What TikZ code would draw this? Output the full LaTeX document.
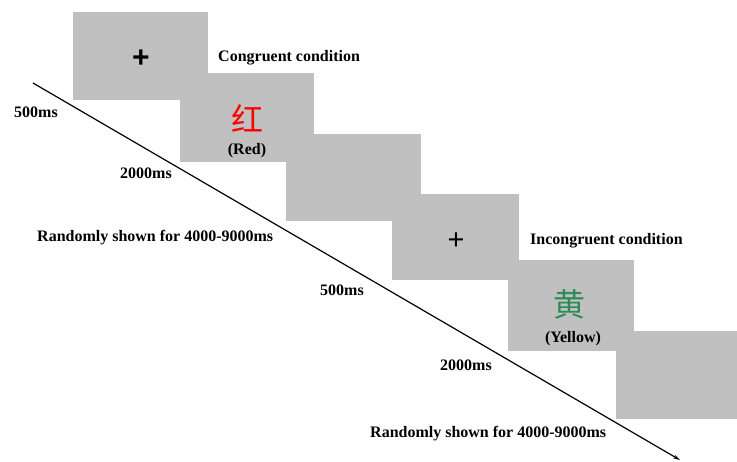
\documentclass[tikz,border=0pt]{standalone}
\usepackage{fontspec}
\setmainfont{Liberation Serif}
\newfontfamily\plusfont{Liberation Sans}
\newfontfamily\cjk{Noto Sans CJK SC}
\usetikzlibrary{arrows.meta}
\definecolor{screen}{RGB}{192,192,192}
\definecolor{wordred}{RGB}{255,0,0}
\definecolor{wordgreen}{RGB}{46,139,87}
\begin{document}
\begin{tikzpicture}[x=1pt,y=-1pt,
  scr/.style={fill=screen,draw=none},
  lbl/.style={font=\fontsize{16}{18}\selectfont\bfseries,inner sep=0pt,anchor=base west},
  word/.style={font=\fontsize{32}{34}\selectfont\cjk,inner sep=0pt},
  trans/.style={font=\fontsize{16}{18}\selectfont\bfseries,inner sep=0pt,anchor=base}]
\useasboundingbox (0,0) rectangle (737,461);
% screens
\fill[scr] (73,12) rectangle (208,100);
\fill[scr] (180,73) rectangle (314,162);
\fill[scr] (286,134) rectangle (421,221);
\fill[scr] (392,194) rectangle (519,280);
\fill[scr] (508,260) rectangle (634,351);
\fill[scr] (616,331) rectangle (737,419);
% screen contents
\node[inner sep=0pt,font=\fontsize{30}{32}\selectfont\plusfont\bfseries] (fix1) at (141,59) {+};
\node[inner sep=0pt,font=\fontsize{29}{31}\selectfont\plusfont] (fix2) at (456,241) {+};
\node[word,text=wordred] (red) at (247,118) {红};
\node[trans] (redt) at (247,154) {(Red)};
\node[word,text=wordgreen] (yellow) at (569,304) {黄};
\node[trans] (yellowt) at (573,342) {(Yellow)};
% condition labels
\node[lbl] (cong) at (218,61) {Congruent condition};
\node[lbl] (incong) at (530,244) {Incongruent condition};
% timeline
\coordinate (tstart) at (33,83);
\coordinate (tend) at (680,460);
\draw[line width=1.2pt,-{Stealth[length=7pt,width=4pt]}] (tstart) -- (tend);
% durations
\node[lbl] (d1) at (14,117) {500ms};
\node[lbl] (d2) at (120,178) {2000ms};
\node[lbl] (d3) at (37,241) {Randomly shown for 4000-9000ms};
\node[lbl] (d4) at (320,295) {500ms};
\node[lbl] (d5) at (440,370) {2000ms};
\node[lbl] (d6) at (370,437) {Randomly shown for 4000-9000ms};
\end{tikzpicture}
\end{document}
